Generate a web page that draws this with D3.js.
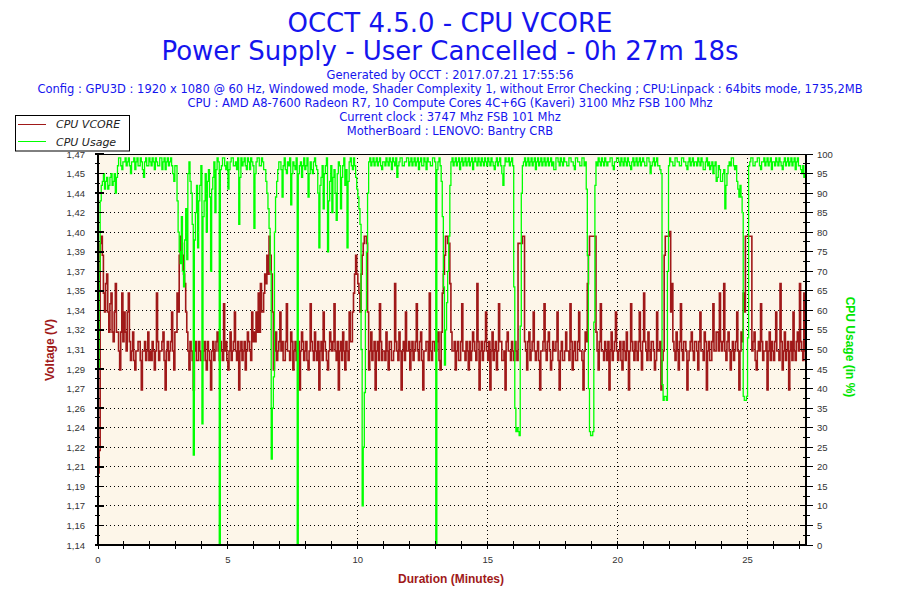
<!DOCTYPE html>
<html>
<head>
<meta charset="utf-8">
<script src="https://cdn.jsdelivr.net/npm/d3@7"></script>
<style>
  body { margin: 0; background: #fff; }
</style>
</head>
<body>
<div id="chart"></div>
<script>
// OCCT CPU VCORE log, one sample every 2.5 s
const sampleSec = 2.5;

const titleLines = ["OCCT 4.5.0 - CPU VCORE", "Power Supply - User Cancelled - 0h 27m 18s"];
const infoLines = [
  "Generated by OCCT : 2017.07.21 17:55:56",
  "Config : GPU3D : 1920 x 1080 @ 60 Hz, Windowed mode, Shader Complexity 1, without Error Checking ; CPU:Linpack : 64bits mode, 1735,2MB",
  "CPU : AMD A8-7600 Radeon R7, 10 Compute Cores 4C+6G (Kaveri) 3100 Mhz FSB 100 Mhz",
  "Current clock : 3747 Mhz FSB 101 Mhz",
  "MotherBoard : LENOVO: Bantry CRB"
];
const seriesNames = ["CPU VCORE", "CPU Usage"];

// CPU VCORE (V), 24 samples per minute
const voltData = [
  1.201, 1.220, 1.395, 1.401, 1.385, 1.353, 1.337, 1.361, 1.369, 1.337, 1.320, 1.344, 1.353, 1.320, 1.312, 1.337, 1.361, 1.320, 1.320, 1.304, 1.288, 1.320, 1.353, 1.312,
  1.337, 1.320, 1.304, 1.337, 1.353, 1.312, 1.296, 1.304, 1.320, 1.296, 1.288, 1.304, 1.304, 1.312, 1.312, 1.296, 1.271, 1.304, 1.304, 1.312, 1.296, 1.304, 1.320, 1.296,
  1.304, 1.296, 1.312, 1.304, 1.288, 1.304, 1.353, 1.312, 1.296, 1.304, 1.304, 1.312, 1.320, 1.296, 1.271, 1.304, 1.312, 1.296, 1.304, 1.312, 1.337, 1.304, 1.288, 1.320,
  1.320, 1.353, 1.337, 1.385, 1.401, 1.395, 1.385, 1.369, 1.361, 1.337, 1.320, 1.304, 1.288, 1.312, 1.304, 1.296, 1.271, 1.304, 1.312, 1.296, 1.296, 1.312, 1.304, 1.296,
  1.296, 1.304, 1.312, 1.296, 1.288, 1.312, 1.304, 1.296, 1.271, 1.304, 1.312, 1.296, 1.304, 1.312, 1.320, 1.304, 1.296, 1.312, 1.304, 1.296, 1.344, 1.304, 1.312, 1.296,
  1.288, 1.304, 1.320, 1.296, 1.304, 1.312, 1.337, 1.304, 1.296, 1.312, 1.271, 1.304, 1.312, 1.296, 1.304, 1.312, 1.288, 1.304, 1.320, 1.312, 1.304, 1.296, 1.337, 1.312,
  1.320, 1.312, 1.337, 1.320, 1.353, 1.320, 1.361, 1.337, 1.337, 1.353, 1.369, 1.361, 1.385, 1.369, 1.401, 1.385, 1.369, 1.337, 1.288, 1.304, 1.320, 1.296, 1.304, 1.312,
  1.337, 1.304, 1.312, 1.296, 1.296, 1.312, 1.344, 1.304, 1.304, 1.296, 1.320, 1.312, 1.288, 1.304, 1.312, 1.296, 1.304, 1.312, 1.271, 1.304, 1.320, 1.312, 1.296, 1.304,
  1.312, 1.296, 1.288, 1.304, 1.344, 1.312, 1.304, 1.296, 1.320, 1.304, 1.296, 1.312, 1.271, 1.304, 1.312, 1.296, 1.337, 1.312, 1.304, 1.296, 1.288, 1.304, 1.320, 1.312,
  1.304, 1.312, 1.344, 1.304, 1.296, 1.312, 1.271, 1.304, 1.312, 1.296, 1.320, 1.304, 1.288, 1.312, 1.304, 1.296, 1.337, 1.312, 1.312, 1.337, 1.353, 1.369, 1.385, 1.369,
  1.361, 1.353, 1.337, 1.369, 1.385, 1.395, 1.401, 1.401, 1.395, 1.337, 1.288, 1.304, 1.320, 1.296, 1.304, 1.312, 1.271, 1.304, 1.312, 1.296, 1.344, 1.312, 1.296, 1.304,
  1.304, 1.296, 1.320, 1.304, 1.288, 1.312, 1.312, 1.296, 1.296, 1.304, 1.361, 1.312, 1.304, 1.296, 1.320, 1.304, 1.271, 1.304, 1.312, 1.296, 1.337, 1.304, 1.304, 1.312,
  1.288, 1.304, 1.312, 1.296, 1.304, 1.312, 1.344, 1.304, 1.296, 1.312, 1.320, 1.296, 1.271, 1.304, 1.304, 1.312, 1.312, 1.296, 1.353, 1.304, 1.296, 1.312, 1.312, 1.304,
  1.304, 1.312, 1.320, 1.296, 1.288, 1.320, 1.353, 1.369, 1.385, 1.401, 1.401, 1.395, 1.395, 1.361, 1.320, 1.304, 1.304, 1.312, 1.288, 1.304, 1.312, 1.296, 1.296, 1.312,
  1.344, 1.304, 1.304, 1.296, 1.312, 1.304, 1.288, 1.312, 1.296, 1.304, 1.320, 1.312, 1.304, 1.296, 1.361, 1.312, 1.271, 1.304, 1.312, 1.296, 1.304, 1.312, 1.337, 1.304,
  1.296, 1.312, 1.271, 1.304, 1.320, 1.296, 1.304, 1.312, 1.288, 1.304, 1.344, 1.312, 1.312, 1.296, 1.296, 1.304, 1.271, 1.312, 1.320, 1.304, 1.304, 1.296, 1.312, 1.304,
  1.296, 1.312, 1.304, 1.296, 1.395, 1.395, 1.395, 1.395, 1.401, 1.401, 1.312, 1.304, 1.288, 1.312, 1.320, 1.296, 1.304, 1.312, 1.337, 1.304, 1.296, 1.304, 1.312, 1.296,
  1.271, 1.304, 1.304, 1.312, 1.344, 1.304, 1.296, 1.312, 1.320, 1.304, 1.288, 1.296, 1.312, 1.304, 1.304, 1.312, 1.337, 1.296, 1.271, 1.304, 1.312, 1.296, 1.296, 1.304,
  1.320, 1.304, 1.304, 1.296, 1.344, 1.312, 1.288, 1.304, 1.312, 1.296, 1.296, 1.312, 1.337, 1.304, 1.304, 1.296, 1.271, 1.304, 1.320, 1.312, 1.361, 1.385, 1.401, 1.401,
  1.401, 1.401, 1.401, 1.401, 1.320, 1.304, 1.288, 1.312, 1.344, 1.304, 1.304, 1.296, 1.312, 1.304, 1.296, 1.312, 1.271, 1.304, 1.320, 1.296, 1.304, 1.312, 1.337, 1.304,
  1.296, 1.304, 1.312, 1.296, 1.288, 1.312, 1.304, 1.296, 1.320, 1.304, 1.271, 1.304, 1.344, 1.312, 1.304, 1.296, 1.312, 1.304, 1.296, 1.312, 1.337, 1.304, 1.288, 1.312,
  1.353, 1.312, 1.304, 1.296, 1.320, 1.304, 1.296, 1.312, 1.312, 1.304, 1.288, 1.296, 1.337, 1.304, 1.304, 1.312, 1.271, 1.296, 1.304, 1.385, 1.401, 1.401, 1.401, 1.401,
  1.405, 1.337, 1.361, 1.312, 1.304, 1.296, 1.320, 1.304, 1.288, 1.312, 1.344, 1.304, 1.296, 1.312, 1.312, 1.304, 1.271, 1.296, 1.304, 1.312, 1.320, 1.304, 1.296, 1.312,
  1.312, 1.304, 1.288, 1.312, 1.337, 1.304, 1.304, 1.296, 1.320, 1.312, 1.271, 1.304, 1.312, 1.296, 1.296, 1.312, 1.344, 1.304, 1.304, 1.320, 1.320, 1.304, 1.353, 1.312,
  1.304, 1.312, 1.361, 1.304, 1.296, 1.312, 1.320, 1.304, 1.288, 1.304, 1.312, 1.296, 1.304, 1.312, 1.337, 1.304, 1.271, 1.304, 1.320, 1.312, 1.353, 1.337, 1.401, 1.401,
  1.401, 1.401, 1.401, 1.401, 1.304, 1.312, 1.320, 1.296, 1.288, 1.304, 1.312, 1.304, 1.344, 1.312, 1.296, 1.304, 1.304, 1.312, 1.271, 1.304, 1.320, 1.296, 1.312, 1.304,
  1.296, 1.312, 1.337, 1.304, 1.304, 1.296, 1.361, 1.312, 1.288, 1.304, 1.320, 1.296, 1.304, 1.312, 1.271, 1.304, 1.312, 1.296, 1.337, 1.304, 1.296, 1.312, 1.320, 1.304,
  1.361, 1.312, 1.304, 1.296, 1.353, 1.304, 1.271, 1.312
];

// CPU Usage (%), same sampling
const usageData = [
  45, 70, 88, 92, 93, 95, 91, 93, 94, 91, 92, 94, 95, 92, 93, 95, 90, 94, 97, 99, 99, 97, 96, 98,
  98, 99, 97, 98, 99, 97, 95, 98, 98, 99, 96, 98, 99, 97, 97, 99, 98, 96, 94, 98, 99, 97, 97, 99,
  98, 97, 99, 98, 96, 99, 98, 97, 97, 99, 99, 96, 98, 99, 96, 98, 99, 97, 98, 99, 97, 95, 93, 97,
  97, 88, 80, 75, 72, 84, 70, 66, 78, 86, 73, 95, 98, 93, 90, 82, 23, 78, 85, 92, 76, 88, 92, 97,
  31, 84, 88, 95, 80, 93, 96, 89, 70, 91, 94, 98, 85, 96, 99, 98, 0, 96, 97, 99, 99, 97, 96, 98,
  91, 96, 98, 99, 99, 97, 97, 98, 96, 99, 82, 94, 99, 97, 98, 99, 97, 96, 99, 98, 96, 99, 98, 97,
  81, 95, 98, 99, 99, 97, 97, 99, 98, 96, 96, 93, 90, 86, 81, 70, 22, 35, 43, 80, 89, 93, 96, 98,
  98, 96, 89, 97, 99, 96, 95, 98, 97, 99, 87, 95, 98, 97, 96, 99, 0, 95, 97, 98, 94, 97, 99, 96,
  97, 99, 89, 95, 98, 96, 95, 98, 99, 97, 96, 90, 76, 92, 94, 97, 86, 95, 97, 99, 75, 88, 93, 97,
  85, 94, 96, 90, 83, 95, 98, 97, 86, 94, 97, 99, 92, 96, 76, 93, 98, 99, 97, 96, 99, 97, 94, 91,
  89, 86, 82, 50, 10, 25, 39, 60, 75, 90, 98, 99, 97, 98, 99, 97, 98, 99, 97, 98, 99, 97, 96, 98,
  98, 97, 99, 98, 97, 99, 98, 96, 99, 98, 97, 99, 94, 97, 98, 99, 99, 97, 97, 98, 98, 99, 99, 97,
  98, 99, 97, 98, 99, 97, 98, 99, 96, 98, 99, 97, 97, 99, 98, 96, 99, 98, 98, 97, 97, 99, 99, 98,
  0, 96, 98, 99, 97, 93, 84, 66, 46, 55, 62, 70, 79, 92, 98, 99, 97, 98, 99, 97, 98, 99, 96, 98,
  99, 97, 98, 99, 97, 98, 99, 97, 98, 99, 96, 98, 99, 98, 97, 99, 98, 97, 99, 98, 97, 99, 98, 97,
  99, 98, 97, 99, 98, 97, 96, 98, 99, 97, 98, 99, 97, 95, 92, 97, 99, 98, 98, 99, 97, 98, 99, 97,
  66, 35, 29, 30, 29, 28, 56, 90, 97, 98, 99, 97, 98, 99, 97, 98, 99, 97, 98, 99, 96, 98, 99, 97,
  98, 99, 97, 98, 99, 97, 98, 99, 97, 98, 99, 97, 98, 96, 96, 99, 99, 98, 97, 99, 98, 97, 99, 98,
  98, 97, 97, 99, 99, 98, 98, 97, 96, 99, 99, 98, 98, 97, 97, 99, 99, 97, 98, 91, 74, 40, 29, 28,
  28, 29, 57, 92, 98, 97, 99, 98, 97, 99, 98, 97, 99, 98, 97, 98, 98, 99, 99, 97, 96, 98, 98, 99,
  99, 98, 97, 99, 98, 97, 99, 98, 97, 99, 98, 97, 96, 98, 99, 97, 98, 99, 97, 98, 99, 97, 98, 99,
  98, 97, 97, 99, 99, 98, 95, 97, 98, 99, 97, 98, 99, 97, 97, 96, 95, 41, 37, 38, 38, 37, 70, 97,
  99, 98, 98, 97, 97, 99, 99, 98, 98, 97, 97, 99, 99, 98, 98, 97, 96, 98, 99, 97, 98, 99, 97, 98,
  98, 97, 99, 98, 97, 99, 98, 96, 96, 98, 99, 97, 98, 96, 97, 98, 95, 97, 98, 93, 94, 97, 96, 93,
  93, 95, 96, 86, 92, 95, 97, 98, 97, 99, 99, 97, 96, 97, 93, 91, 89, 92, 89, 85, 38, 37, 37, 38,
  53, 97, 98, 99, 99, 97, 97, 98, 98, 99, 99, 97, 96, 98, 98, 99, 97, 98, 99, 97, 98, 99, 96, 98,
  98, 97, 99, 98, 97, 99, 98, 97, 96, 98, 99, 97, 98, 99, 97, 98, 99, 97, 98, 99, 96, 98, 99, 97,
  97, 96, 95, 97, 94, 95, 96, 95
];

const voltTickLabels = ["1,14", "1,16", "1,17", "1,19", "1,21", "1,22", "1,24", "1,26", "1,27", "1,29", "1,31",
  "1,32", "1,34", "1,35", "1,37", "1,39", "1,40", "1,42", "1,44", "1,45", "1,47"];
const usageTicks = [0, 5, 10, 15, 20, 25, 30, 35, 40, 45, 50, 55, 60, 65, 70, 75, 80, 85, 90, 95, 100];
const minuteTicks = [0, 5, 10, 15, 20, 25];
const voltRange = [1.14, 1.4706];
const durationMin = 27.25;

const W = 900, H = 600;
const x0 = 98, x1 = 806, yTop = 154, yBot = 545;
const blue = "#1515ee";
const red = "#a01919";
const green = "#00ff00";

const svg = d3.select("#chart").append("svg")
  .attr("width", W)
  .attr("height", H)
  .style("font-family", "'DejaVu Sans', Verdana, sans-serif");

function drawTxt(svg, tx, ty, txt, fill, size, anchor = "start", weight = "normal", family = null, style = "normal") {
  let t = svg.append("text")
    .attr("x", tx)
    .attr("y", ty)
    .attr("fill", fill)
    .attr("font-size", size)
    .attr("font-weight", weight)
    .attr("font-style", style)
    .style("text-anchor", anchor)
    .text(txt);
  if (family) t.style("font-family", family);
  return t;
}

function drawLine(svg, xa, ya, xb, yb, stroke, width, dash = "0") {
  return svg.append("line")
    .attr("x1", xa).attr("y1", ya)
    .attr("x2", xb).attr("y2", yb)
    .attr("stroke", stroke)
    .attr("stroke-width", width)
    .attr("stroke-dasharray", dash)
    .attr("shape-rendering", "crispEdges");
}

// scales
const x = d3.scaleLinear().domain([0, durationMin]).range([x0, x1]);
const yU = d3.scaleLinear().domain([0, 100]).range([yBot, yTop]);
const yV = d3.scaleLinear().domain(voltRange).range([yBot, yTop]);
const tMin = i => i * sampleSec / 60;

// titles
drawTxt(svg, 450, 32, titleLines[0], blue, 26, "middle");
drawTxt(svg, 450, 60, titleLines[1], blue, 26, "middle");
infoLines.forEach((l, i) => drawTxt(svg, 450, 79 + i * 14, l, blue, 11.5, "middle"));

// plot background
svg.append("rect")
  .attr("x", x0).attr("y", yTop)
  .attr("width", x1 - x0).attr("height", yBot - yTop)
  .attr("fill", "#fdf6e9");

// dotted grid
usageTicks.slice(1, -1).forEach(v => drawLine(svg, x0, yU(v), x1, yU(v), "#000", 1, "1,3"));
minuteTicks.slice(1).forEach(m => drawLine(svg, x(m), yTop, x(m), yBot, "#000", 1, "1,3"));

// series, drawn as steps like the logger does
svg.append("clipPath").attr("id", "plotClip")
  .append("rect").attr("x", x0).attr("y", yTop - 1).attr("width", x1 - x0).attr("height", yBot - yTop + 1);

const voltLine = d3.line()
  .x((d, i) => x(tMin(i)))
  .y(d => yV(d))
  .curve(d3.curveStepAfter);
const usageLine = d3.line()
  .x((d, i) => x(tMin(i)))
  .y(d => yU(d))
  .curve(d3.curveStepAfter);

svg.append("path")
  .attr("d", voltLine(voltData))
  .attr("clip-path", "url(#plotClip)")
  .attr("fill", "none")
  .attr("stroke", red)
  .attr("stroke-width", 1.6);
svg.append("path")
  .attr("d", usageLine(usageData))
  .attr("clip-path", "url(#plotClip)")
  .attr("fill", "none")
  .attr("stroke", green)
  .attr("stroke-width", 1.3);

// frame + axes
drawLine(svg, x0, yTop, x1, yTop, "#000", 1);
drawLine(svg, x0, yTop, x0, yBot + 1, "#000", 1.5);
drawLine(svg, x1, yTop, x1, yBot + 1, "#000", 1.5);
drawLine(svg, x0, yBot, x1, yBot, "#000", 1.5);

const tickFont = "'Liberation Sans', Arial, sans-serif";
usageTicks.forEach((v, k) => {
  let yy = yU(v);
  // left: voltage
  drawLine(svg, x0 - 3, yy, x0 + 6, yy, "#000", 1.6);
  drawTxt(svg, 85, yy + 3.5, voltTickLabels[k], "#333", 9.5, "end", "normal", tickFont);
  // right: usage
  drawLine(svg, x1 - 6, yy, x1 + 7, yy, "#000", 1);
  drawTxt(svg, 817, yy + 3.5, v, "#333", 9.5, "start", "normal", tickFont);
  if (k < usageTicks.length - 1) {
    let ym = yU(v + 2.5);
    drawLine(svg, x0 - 3, ym, x0 + 2, ym, "#000", 1);
    drawLine(svg, x1 - 3, ym, x1 + 4, ym, "#000", 1);
  }
});

d3.range(0, Math.floor(durationMin) + 1).forEach(m => {
  drawLine(svg, x(m), yBot - 4, x(m), yBot + 4, "#000", 1);
});
minuteTicks.forEach(m => drawTxt(svg, x(m), 563, m, "#333", 9.5, "middle", "normal", tickFont));

// axis titles
const titleFont = "'Liberation Sans', Arial, sans-serif";
drawTxt(svg, 0, 0, "Voltage (V)", red, 12, "middle", "bold", titleFont)
  .attr("transform", "translate(54,350) rotate(-90)");
drawTxt(svg, 0, 0, "CPU Usage (in %)", "#00e600", 12, "middle", "bold", titleFont)
  .attr("transform", "translate(846,347) rotate(90)");
drawTxt(svg, 451, 583, "Duration (Minutes)", red, 12, "middle", "bold", titleFont);

// legend
svg.append("rect")
  .attr("x", 15.5).attr("y", 115.5)
  .attr("width", 114).attr("height", 35.5)
  .attr("fill", "#fff")
  .attr("stroke", "#000")
  .attr("stroke-width", 1);
[red, green].forEach((c, i) => {
  drawLine(svg, 18, 124 + i * 17.5, 46, 124 + i * 17.5, c, 1);
  drawTxt(svg, 56, 128 + i * 17.5, seriesNames[i], "#222", 11, "start", "normal", null, "italic");
});
</script>
</body>
</html>
